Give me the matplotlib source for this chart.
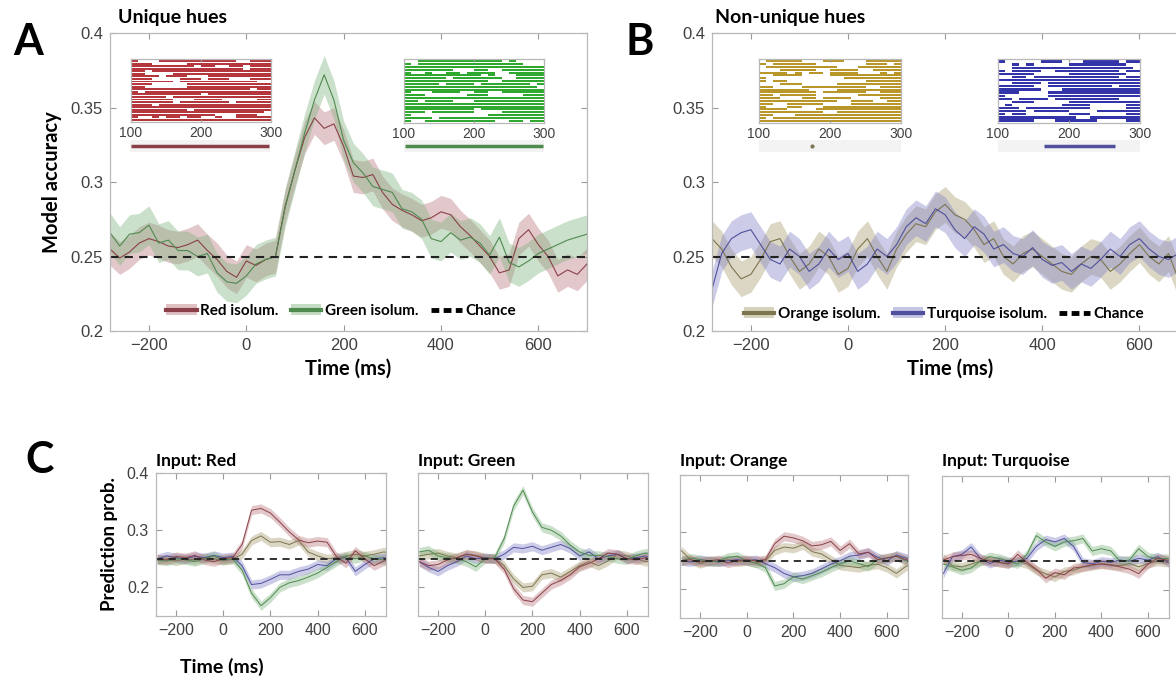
import numpy as np
import matplotlib
matplotlib.use("Agg")
import matplotlib.pyplot as plt
from matplotlib.patches import Patch
from matplotlib.lines import Line2D

W, H = 1176, 679

# ---------------- data ----------------
t_main = np.arange(-280, 701, 20)

red_a = [0.255, 0.249, 0.253, 0.259, 0.262, 0.260, 0.257, 0.256, 0.258, 0.261,
         0.254, 0.248, 0.240, 0.236, 0.247, 0.244, 0.248, 0.250, 0.284, 0.308,
         0.330, 0.343, 0.336, 0.339, 0.324, 0.304, 0.303, 0.305, 0.293, 0.285,
         0.281, 0.278, 0.274, 0.276, 0.280, 0.278, 0.270, 0.264, 0.257, 0.250,
         0.239, 0.241, 0.262, 0.268, 0.258, 0.250, 0.237, 0.241, 0.238, 0.245]
green_a = [0.266, 0.257, 0.265, 0.266, 0.271, 0.259, 0.261, 0.254, 0.254, 0.250,
           0.252, 0.239, 0.233, 0.232, 0.237, 0.245, 0.248, 0.250, 0.283, 0.308,
           0.333, 0.355, 0.372, 0.355, 0.328, 0.313, 0.306, 0.297, 0.295, 0.293,
           0.282, 0.280, 0.275, 0.262, 0.260, 0.266, 0.261, 0.263, 0.259, 0.251,
           0.263, 0.246, 0.243, 0.247, 0.252, 0.255, 0.258, 0.261, 0.263, 0.265]
orange_b = [0.262, 0.255, 0.243, 0.235, 0.238, 0.248, 0.260, 0.262, 0.250, 0.240,
            0.245, 0.255, 0.250, 0.238, 0.242, 0.255, 0.262, 0.250, 0.240, 0.255,
            0.265, 0.272, 0.270, 0.280, 0.285, 0.278, 0.275, 0.268, 0.258, 0.262,
            0.250, 0.245, 0.252, 0.255, 0.250, 0.245, 0.240, 0.238, 0.245, 0.250,
            0.248, 0.240, 0.245, 0.252, 0.258, 0.250, 0.245, 0.252, 0.235, 0.232]
turq_b = [0.228, 0.252, 0.262, 0.266, 0.268, 0.258, 0.248, 0.245, 0.255, 0.250,
          0.240, 0.245, 0.255, 0.248, 0.252, 0.240, 0.245, 0.255, 0.250, 0.258,
          0.270, 0.276, 0.272, 0.282, 0.278, 0.268, 0.262, 0.270, 0.265, 0.255,
          0.258, 0.252, 0.250, 0.256, 0.248, 0.244, 0.246, 0.240, 0.245, 0.242,
          0.248, 0.255, 0.250, 0.258, 0.262, 0.255, 0.250, 0.248, 0.252, 0.250]

t_small = np.arange(-280, 721, 40)

# panel C: prediction probability for each output colour, per input colour
c_red_in = {
    "red":    [0.250, 0.248, 0.254, 0.252, 0.256, 0.248, 0.245, 0.250, 0.252, 0.275, 0.335, 0.338, 0.330,
               0.314, 0.297, 0.283, 0.278, 0.281, 0.279, 0.254, 0.242, 0.264, 0.250, 0.238, 0.246, 0.250],
    "green":  [0.248, 0.246, 0.250, 0.248, 0.245, 0.250, 0.255, 0.248, 0.250, 0.230, 0.190, 0.168, 0.182,
               0.200, 0.208, 0.212, 0.218, 0.225, 0.235, 0.245, 0.254, 0.250, 0.255, 0.250, 0.248, 0.250],
    "orange": [0.248, 0.250, 0.246, 0.250, 0.248, 0.252, 0.250, 0.247, 0.249, 0.258, 0.282, 0.290, 0.279,
               0.280, 0.275, 0.282, 0.262, 0.255, 0.250, 0.252, 0.255, 0.258, 0.255, 0.258, 0.262, 0.260],
    "turq":   [0.250, 0.255, 0.252, 0.250, 0.254, 0.252, 0.256, 0.252, 0.254, 0.238, 0.205, 0.207, 0.214,
               0.222, 0.222, 0.228, 0.232, 0.240, 0.238, 0.250, 0.252, 0.228, 0.240, 0.250, 0.252, 0.250],
}
c_green_in = {
    "red":    [0.245, 0.238, 0.240, 0.248, 0.252, 0.258, 0.255, 0.250, 0.250, 0.232, 0.198, 0.178, 0.175,
               0.190, 0.205, 0.212, 0.222, 0.236, 0.242, 0.250, 0.260, 0.258, 0.250, 0.248, 0.252, 0.250],
    "green":  [0.262, 0.265, 0.255, 0.252, 0.250, 0.245, 0.236, 0.250, 0.252, 0.285, 0.342, 0.370, 0.332,
               0.305, 0.300, 0.290, 0.274, 0.262, 0.256, 0.256, 0.254, 0.250, 0.248, 0.256, 0.260, 0.258],
    "orange": [0.255, 0.258, 0.260, 0.255, 0.252, 0.258, 0.256, 0.252, 0.250, 0.238, 0.215, 0.200, 0.202,
               0.222, 0.225, 0.218, 0.228, 0.238, 0.245, 0.238, 0.246, 0.258, 0.255, 0.250, 0.245, 0.248],
    "turq":   [0.245, 0.235, 0.228, 0.238, 0.245, 0.255, 0.250, 0.252, 0.250, 0.258, 0.270, 0.268, 0.272,
               0.265, 0.270, 0.275, 0.268, 0.255, 0.262, 0.250, 0.255, 0.258, 0.250, 0.252, 0.255, 0.250],
}
c_orange_in = {
    "red":    [0.250, 0.252, 0.248, 0.250, 0.252, 0.246, 0.250, 0.252, 0.250, 0.252, 0.280, 0.293, 0.290,
               0.285, 0.276, 0.278, 0.284, 0.268, 0.280, 0.262, 0.265, 0.252, 0.255, 0.258, 0.252, 0.250],
    "green":  [0.250, 0.255, 0.252, 0.248, 0.250, 0.256, 0.258, 0.250, 0.246, 0.238, 0.206, 0.210, 0.222,
               0.218, 0.224, 0.230, 0.238, 0.245, 0.250, 0.245, 0.240, 0.252, 0.255, 0.258, 0.250, 0.248],
    "orange": [0.268, 0.252, 0.245, 0.250, 0.248, 0.252, 0.248, 0.250, 0.246, 0.250, 0.268, 0.274, 0.272,
               0.278, 0.266, 0.262, 0.252, 0.242, 0.240, 0.238, 0.242, 0.244, 0.238, 0.228, 0.240, 0.245],
    "turq":   [0.250, 0.248, 0.252, 0.250, 0.248, 0.250, 0.252, 0.250, 0.252, 0.245, 0.238, 0.228, 0.222,
               0.224, 0.228, 0.236, 0.244, 0.250, 0.258, 0.260, 0.265, 0.256, 0.250, 0.260, 0.255, 0.250],
}
c_turq_in = {
    "red":    [0.252, 0.258, 0.260, 0.262, 0.255, 0.250, 0.248, 0.245, 0.262, 0.248, 0.236, 0.220, 0.230,
               0.226, 0.238, 0.240, 0.244, 0.245, 0.243, 0.240, 0.236, 0.228, 0.245, 0.255, 0.252, 0.250],
    "green":  [0.245, 0.240, 0.234, 0.238, 0.250, 0.258, 0.255, 0.250, 0.245, 0.262, 0.295, 0.284, 0.276,
               0.284, 0.286, 0.290, 0.268, 0.272, 0.268, 0.250, 0.252, 0.272, 0.258, 0.254, 0.255, 0.252],
    "orange": [0.255, 0.242, 0.240, 0.245, 0.250, 0.252, 0.248, 0.246, 0.250, 0.245, 0.234, 0.228, 0.222,
               0.232, 0.234, 0.240, 0.242, 0.246, 0.244, 0.242, 0.246, 0.240, 0.246, 0.250, 0.248, 0.246],
    "turq":   [0.228, 0.258, 0.262, 0.275, 0.255, 0.246, 0.252, 0.248, 0.250, 0.255, 0.276, 0.288, 0.284,
               0.290, 0.276, 0.248, 0.245, 0.250, 0.248, 0.252, 0.250, 0.255, 0.252, 0.258, 0.250, 0.240],
}
c_panels = [("Input: Red", c_red_in), ("Input: Green", c_green_in),
            ("Input: Orange", c_orange_in), ("Input: Turquoise", c_turq_in)]

# generalisation rasters (100-300 ms), '#' = significant
raster_red = [
    "#...###########..###", "###.....############", "#########.##..##.###", "################.###",
    "##.#################", "##....##############", "####.###...#########", "###....###.###...###",
    "######.###########..", "###.....############", "##......############", "#################.##",
    "#.##################", "##########.#########", "#####.##############", "######...####.....##",
    "######.#######.#####", "###.################", "####################", "########.###########",
    "###################.", "############...###..", "#..#.##.##..#..#####", "####################",
]
raster_green = [
    "..############.#....", "#.###############...", "####################", "#######...##..######",
    "#..#..##.####..#####", "###########.#...####", "######.#######..####", "############..######",
    "#####.####.#######.#", "###################.", "####################", "#...####..##..######",
    "###......###.....###", "####################", "##.####...##########", "####################",
    "####################", "##########.#########", "###.######....######", "#...........########",
    "####.###############", "#..##########..##.##",
]
raster_orange = [
    ".#####...###...#####", "#.######.......###.#", ".##########...######", "...#####..####..####",
    "####.#.##.####...#.#", "..####....##########", "#...........########", "#.##...........#####",
    "...###.....#########", "##....#########..###", "#######....#########", "########.######..###",
    "##.#####......######", "###...##.####....###", "###########..###..##", "##..#####....#######",
    "#...##...###########", "####....############", "#########..#########", "##...###############",
    "#.##################", "####################",
]
raster_turq = [
    "#.....###...#####.##", "..#.#.....########..", "..#################.", "#.####..#########.##",
    "#####.....########..", "..##.############.##", "####################", "..####.#############",
    "#####..#########.###", "######...###########", "###....#############", "#......#############",
    "##.####.#########...", "..###.....##########", ".#.......####.....##", "###.#########.....##",
    "####.#####....######", "#.##......###.....##", "###########..#######", "#####...######....##",
]
# significant cluster below each raster (ms)
sig_red = (102, 298)
sig_green = (102, 298)
sig_orange = (174, 176)
sig_turq = (165, 265)

# ---------------- style ----------------
line_col = {"red": "#8a4048", "green": "#4f8a4f", "orange": "#7d7550", "turq": "#50509c"}
fill_col = {"red": "#b8767c", "green": "#7fb27f", "orange": "#a59c6c", "turq": "#8080c8"}
raster_col = {"red": "#b5373d", "green": "#2ea82e", "orange": "#b8962a", "turq": "#3434aa"}
spine_col = "#b8b8b8"
tick_col = "#404040"
bold_font = "Lato"
tick_font = "Liberation Sans"

plt.rcParams["font.family"] = [tick_font, "DejaVu Sans"]

fig = plt.figure(figsize=(W / 100, H / 100), dpi=100)


def px_axes(x0, y0, x1, y1):
    return fig.add_axes([x0 / W, 1 - y1 / H, (x1 - x0) / W, (y1 - y0) / H])


def matlab_style(ax, size):
    for s in ax.spines.values():
        s.set_color(spine_col)
        s.set_linewidth(0.9)
    ax.tick_params(direction="in", top=True, right=True, length=4, width=0.8,
                   color="#9a9a9a", labelcolor=tick_col, labelsize=size, pad=5)


def plot_series(ax, t, vals, key, err, lw=0.8):
    v = np.array(vals)
    ax.fill_between(t, v - err, v + err, color=fill_col[key], alpha=0.4, lw=0)
    ax.plot(t, v, color=line_col[key], lw=lw)


def legend_handle(key):
    return (Patch(facecolor=fill_col[key], alpha=0.45, edgecolor="none"),
            Line2D([], [], color=line_col[key], lw=3))


def raster(box, bar_box, rows, key, sig):
    ax = px_axes(*box)
    n = len(rows)
    for i, r in enumerate(rows):
        bw = 200 / len(r)
        j = 0
        while j < len(r):
            if r[j] == "#":
                k = j
                while k < len(r) and r[k] == "#":
                    k += 1
                ax.broken_barh([(100 + j * bw, (k - j) * bw)], (i + 0.14, 0.72),
                               facecolor=raster_col[key], edgecolor="none")
                j = k
            else:
                j += 1
    ax.set_xlim(100, 300)
    ax.set_ylim(n + 0.3, -0.3)
    ax.set_yticks([])
    ax.set_xticks([100, 200, 300])
    matlab_style(ax, 10)
    ax.tick_params(right=False, length=2.5, pad=3)
    bx = px_axes(*bar_box)
    bx.set_facecolor("#f3f3f3")
    for s in bx.spines.values():
        s.set_visible(False)
    bx.set_xticks([])
    bx.set_yticks([])
    bx.set_xlim(100, 300)
    bx.set_ylim(0, 1)
    if sig[1] - sig[0] < 5:
        bx.plot([np.mean(sig)], [0.5], "o", ms=2, color=line_col[key])
    else:
        bx.plot(sig, [0.5, 0.5], color=line_col[key], lw=2.5, solid_capstyle="butt")


def main_panel(box, series, legend_center, ylabel=None):
    ax = px_axes(*box)
    for key, vals, err in series:
        plot_series(ax, t_main, vals, key, err)
    ax.axhline(0.25, color="#222222", ls=(0, (4, 3)), lw=1.5)
    ax.set_xlim(-280, 700)
    ax.set_ylim(0.2, 0.4)
    ax.set_xticks([-200, 0, 200, 400, 600])
    ax.set_yticks([0.2, 0.25, 0.3, 0.35, 0.4])
    ax.set_yticklabels(["0.2", "0.25", "0.3", "0.35", "0.4"])
    matlab_style(ax, 12)
    ax.set_xlabel("Time (ms)", fontsize=14.5, fontweight="bold", family=bold_font, labelpad=4)
    if ylabel:
        ax.set_ylabel(ylabel, fontsize=14.5, fontweight="bold", family=bold_font, labelpad=6)
    handles = [legend_handle(k) for k, _, _ in series]
    handles.append(Line2D([], [], color="black", lw=3.5, ls=(0, (1.6, 0.9))))
    names = {"red": "Red isolum.", "green": "Green isolum.",
             "orange": "Orange isolum.", "turq": "Turquoise isolum."}
    labels = [names[k] for k, _, _ in series] + ["Chance"]
    fig.legend(handles, labels, loc="center", ncol=3, frameon=False,
               bbox_to_anchor=(legend_center[0] / W, 1 - legend_center[1] / H),
               prop={"family": bold_font, "weight": "bold", "size": 11},
               handlelength=2.0, handletextpad=0.25, columnspacing=0.8)
    return ax


# ---------------- panels A and B ----------------
main_panel((110, 33, 587, 331),
           [("red", red_a, 0.011), ("green", green_a, 0.013)],
           (341, 311), ylabel="Model accuracy")
main_panel((712, 33, 1188, 331),
           [("orange", orange_b, 0.012), ("turq", turq_b, 0.012)],
           (944, 314))

raster((131, 59, 271, 122), (130, 140, 270, 152), raster_red, "red", sig_red)
raster((404, 59, 544, 123), (404, 140, 544, 152), raster_green, "green", sig_green)
raster((759, 59, 901, 123), (759, 140, 901, 152), raster_orange, "orange", sig_orange)
raster((998, 59, 1140, 123), (998, 140, 1140, 152), raster_turq, "turq", sig_turq)

# ---------------- panel C ----------------
c_boxes = [(156, 473, 386, 616), (418, 473, 648, 616),
           (680, 475, 908, 618), (942, 476, 1169, 618)]
for i, ((title, d), box) in enumerate(zip(c_panels, c_boxes)):
    ax = px_axes(*box)
    for key in ["orange", "turq", "green", "red"]:
        plot_series(ax, t_small, d[key], key, 0.008, lw=0.7)
    ax.axhline(0.25, color="#222222", ls=(0, (4, 3)), lw=1.3)
    ax.set_xlim(-285, 690)
    ax.set_ylim(0.15, 0.4)
    ax.set_xticks([-200, 0, 200, 400, 600])
    ax.set_yticks([0.2, 0.3, 0.4])
    matlab_style(ax, 11.5)
    if i > 0:
        ax.set_yticklabels([])
    else:
        ax.set_ylabel("Prediction prob.", fontsize=13.5, fontweight="bold",
                      family=bold_font, labelpad=6)
    fig.text(box[0] / W, 1 - 461 / H, title,
             fontsize=12.5, fontweight="bold", family=bold_font, va="center", ha="left")

fig.text(180 / W, 1 - 667 / H, "Time (ms)", fontsize=14, fontweight="bold",
         family=bold_font, va="center", ha="left")

# ---------------- titles and panel letters ----------------
fig.text(118 / W, 1 - 18 / H, "Unique hues", fontsize=14, fontweight="bold",
         family=bold_font, va="center", ha="left")
fig.text(715 / W, 1 - 18 / H, "Non-unique hues", fontsize=14, fontweight="bold",
         family=bold_font, va="center", ha="left")
for letter, (x, y) in zip("ABC", [(28, 42), (640, 42), (40, 460)]):
    fig.text(x / W, 1 - y / H, letter, fontsize=31, fontweight="bold",
             family=bold_font, va="center", ha="center")

fig.savefig("out.png", dpi=100)
